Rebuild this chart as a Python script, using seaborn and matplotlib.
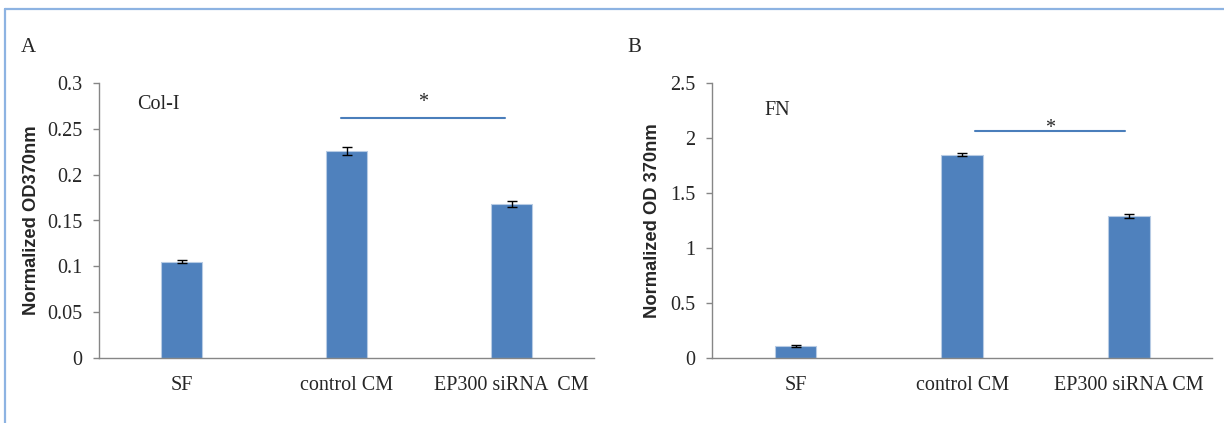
import matplotlib
matplotlib.use("Agg")
import matplotlib.pyplot as plt
from matplotlib.lines import Line2D
import seaborn as sns
import pandas as pd

# Panel A: Col-I
cats_a = ["SF", "control CM", "EP300 siRNA  CM"]
vals_a = [0.105, 0.2257, 0.168]
errs_a = [0.0015, 0.0045, 0.0033]
ticks_a = [0, 0.05, 0.1, 0.15, 0.2, 0.25, 0.3]
tick_labels_a = ["0", "0.05", "0.1", "0.15", "0.2", "0.25", "0.3"]

# Panel B: FN
cats_b = ["SF", "control CM", "EP300 siRNA CM"]
vals_b = [0.109, 1.846, 1.289]
errs_b = [0.005, 0.015, 0.015]
ticks_b = [0, 0.5, 1, 1.5, 2, 2.5]
tick_labels_b = ["0", "0.5", "1", "1.5", "2", "2.5"]

# Significance bars: (start, end, height) and height of the star
sig_a = (0.965, 1.96, 0.262)
sig_b = (1.075, 1.975, 2.057)
star_a = 0.2686
star_b = 1.995

sns.set_theme(style="white")
plt.rcParams["font.family"] = ["Liberation Serif", "DejaVu Serif"]

BAR = "#4f81bd"
AXIS = "#868686"
SERIF = "Liberation Serif"
SANS = "Liberation Sans"
FS = 14.5

W, H = 1224, 423
fig = plt.figure(figsize=(W / 100, H / 100), dpi=100)
fig.patch.set_facecolor("white")

# outer frame of the figure (top and left edges)
frame = "#8db3e2"
fig.add_artist(Line2D([5 / W, 5 / W], [0, 1 - 9 / H], transform=fig.transFigure,
                      color=frame, lw=1.6))
fig.add_artist(Line2D([5 / W, 1], [1 - 9 / H, 1 - 9 / H], transform=fig.transFigure,
                      color=frame, lw=1.6))

ax_a = fig.add_axes([99.3 / W, (H - 357.7) / H, 494.7 / W, 274.4 / H])
ax_b = fig.add_axes([712.3 / W, (H - 358) / H, 500 / W, 275.3 / H])


def panel(ax, cats, vals, errs, ticks, tick_labels, ylabel, sig, star_y, ymax, label_x):
    df = pd.DataFrame({"group": cats, "value": vals})
    sns.barplot(data=df, x="group", y="value", ax=ax, color=BAR, width=0.25,
                saturation=1, edgecolor="#b7cbe4", linewidth=0.8, errorbar=None, zorder=2)
    ax.errorbar(range(len(cats)), vals, yerr=errs, fmt="none", ecolor="black",
                elinewidth=1.0, capsize=3.6, capthick=1.0, zorder=3)
    ax.set_xlim(-0.5, 2.5)
    ax.set_ylim(0, ymax)
    ax.set_yticks(ticks)
    ax.set_yticklabels(tick_labels, fontfamily=SERIF, fontsize=FS)
    ax.set_xticks(range(len(cats)))
    ax.set_xticklabels(cats, fontfamily=SERIF, fontsize=FS)
    ax.tick_params(axis="y", which="major", left=True, length=4.3, width=1, color=AXIS, pad=8)
    ax.tick_params(axis="x", bottom=False, pad=7)
    ax.set_xlabel("")
    ax.set_ylabel(ylabel, fontfamily=SANS, fontweight="bold", fontsize=13.2)
    ax.yaxis.set_label_coords(label_x, 0.5)
    for side in ("top", "right"):
        ax.spines[side].set_visible(False)
    for side in ("left", "bottom"):
        ax.spines[side].set_color(AXIS)
        ax.spines[side].set_linewidth(1.0)
    # significance line and star
    x0, x1, h = sig
    ax.plot([x0, x1], [h, h], color="#4a7ebb", lw=1.5, clip_on=False, zorder=3)
    ax.text((x0 + x1) / 2, star_y, "*", ha="center", va="bottom",
            fontfamily=SERIF, fontsize=FS)
    ax.set_facecolor("white")


panel(ax_a, cats_a, vals_a, errs_a, ticks_a, tick_labels_a, "Normalized OD370nm",
      sig_a, star_a, 0.3, -0.12)
panel(ax_b, cats_b, vals_b, errs_b, ticks_b, tick_labels_b, "Normalized OD 370nm",
      sig_b, star_b, 2.5, -0.103)

# inner labels
ax_a.text(-0.27, 0.2763, "Col-I", fontfamily=SERIF, fontsize=FS, va="center", ha="left")
ax_b.text(-0.19, 2.252, "FN", fontfamily=SERIF, fontsize=FS, va="center", ha="left")

# panel tags
fig.text(20.5 / W, 1 - 47 / H, "A", fontfamily=SERIF, fontsize=15, va="center", ha="left")
fig.text(627.5 / W, 1 - 47 / H, "B", fontfamily=SERIF, fontsize=15, va="center", ha="left")

fig.savefig("out.png", dpi=100, facecolor="white")
